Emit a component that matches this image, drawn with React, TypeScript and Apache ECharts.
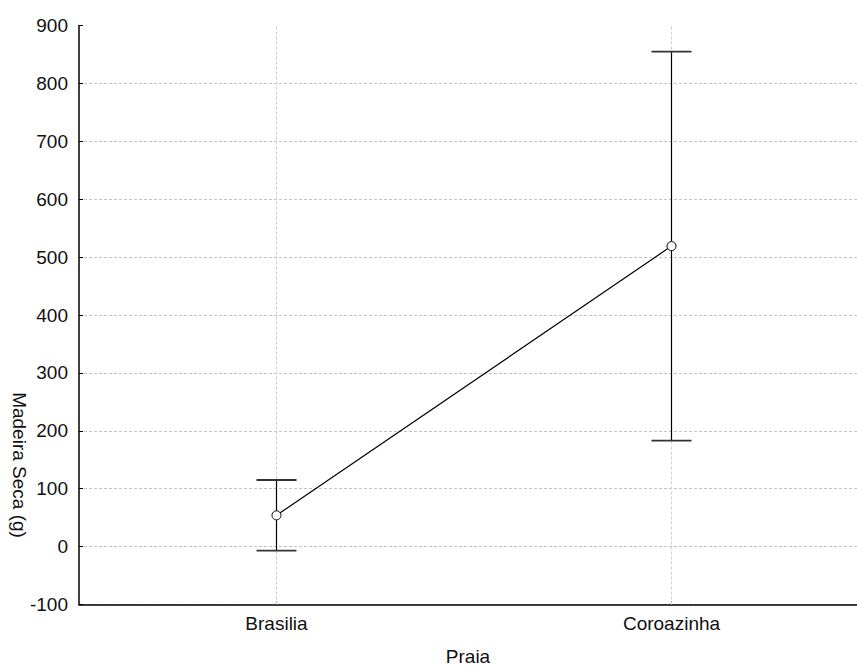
import React, { useEffect, useRef } from "react";
import * as echarts from "echarts";

const categories = ["Brasilia", "Coroazinha"];
const means = [54, 519];
const errors = [61, 336];
const yTicks = { min: -100, max: 900, interval: 100 };
const xTitle = "Praia";
const yTitle = "Madeira Seca (g)";

const FONT = "'Liberation Sans', Arial, sans-serif";

export default function App() {
  const ref = useRef<HTMLDivElement>(null);
  useEffect(() => {
    document.body.style.margin = "0";
    const chart = echarts.init(ref.current!, null, { renderer: "svg" });
    const errData = categories.map((c, i) => [i, means[i] - errors[i], means[i] + errors[i]]);
    chart.setOption({
      animation: false,
      backgroundColor: "#ffffff",
      grid: { left: 79, top: 25.5, width: 790, height: 579, containLabel: false, outerBoundsMode: "none" },
      xAxis: {
        type: "category",
        data: categories,
        boundaryGap: true,
        axisLine: { onZero: false, lineStyle: { color: "#000", width: 1.5 } },
        axisTick: { show: true, inside: true, alignWithLabel: true, length: 3, lineStyle: { color: "#000" } },
        axisLabel: { color: "#111", fontSize: 19, fontFamily: FONT, margin: 9 },
        splitLine: { show: false },
      },
      yAxis: {
        type: "value",
        min: yTicks.min,
        max: yTicks.max,
        interval: yTicks.interval,
        axisLine: { show: true, lineStyle: { color: "#000", width: 1.5 } },
        axisTick: { show: true, inside: true, length: 4, lineStyle: { color: "#000" } },
        axisLabel: { color: "#111", fontSize: 19, fontFamily: FONT, margin: 11 },
        splitLine: { show: true, showMaxLine: false, lineStyle: { color: "#c4c4c4", type: [3, 2], width: 1 } },
      },
      graphic: [
        {
          type: "text",
          x: 19,
          y: 465,
          rotation: -Math.PI / 2,
          style: { text: yTitle, fill: "#111", font: `19px ${FONT}`, align: "center", verticalAlign: "middle" },
        },
        {
          type: "text",
          x: 468,
          y: 656,
          style: { text: xTitle, fill: "#111", font: `19px ${FONT}`, align: "center", verticalAlign: "middle" },
        },
      ],
      series: [
        {
          type: "line",
          z: 1,
          data: [],
          markLine: {
            z: 1,
            silent: true,
            symbol: "none",
            label: { show: false },
            lineStyle: { color: "#cfcfcf", type: [3, 2], width: 1 },
            data: categories.map((c) => ({ xAxis: c })),
          },
        },
        {
          type: "custom",
          z: 4,
          data: errData,
          renderItem: (params: any, api: any) => {
            const lo = api.coord([api.value(0), api.value(1)]);
            const hi = api.coord([api.value(0), api.value(2)]);
            const half = 20;
            return {
              type: "group",
              children: [
                { type: "line", shape: { x1: lo[0], y1: lo[1], x2: hi[0], y2: hi[1] }, style: { stroke: "#000", lineWidth: 1.2 } },
                { type: "line", shape: { x1: hi[0] - half, y1: hi[1], x2: hi[0] + half, y2: hi[1] }, style: { stroke: "#333", lineWidth: 1.8 } },
                { type: "line", shape: { x1: lo[0] - half, y1: lo[1], x2: lo[0] + half, y2: lo[1] }, style: { stroke: "#333", lineWidth: 1.8 } },
              ],
            };
          },
        },
        {
          type: "line",
          z: 5,
          data: means,
          symbol: "circle",
          symbolSize: 9,
          itemStyle: { color: "#fff", borderColor: "#000", borderWidth: 1 },
          lineStyle: { color: "#000", width: 1.2 },
        },
      ],
    });
    return () => chart.dispose();
  }, []);
  return <div ref={ref} style={{ width: 857, height: 666 }} />;
}
